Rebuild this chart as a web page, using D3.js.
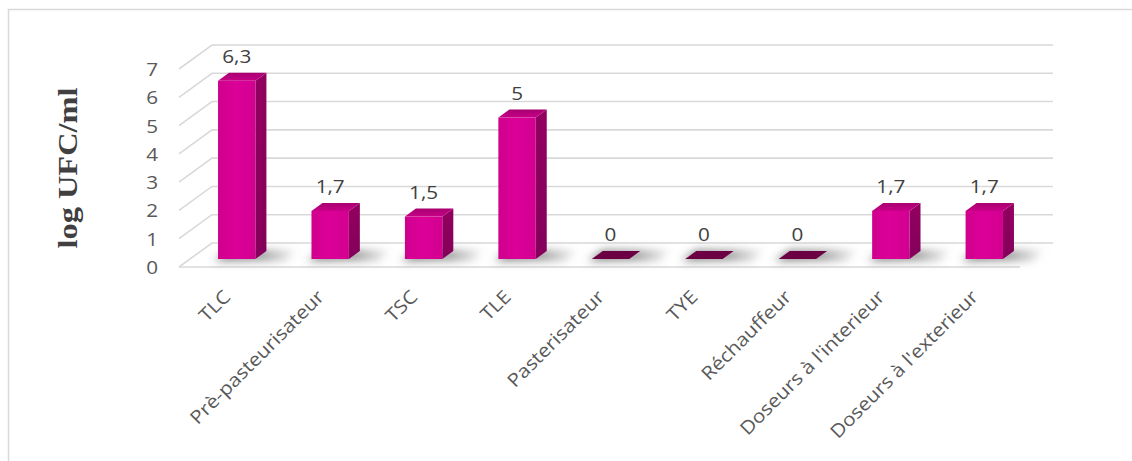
<!DOCTYPE html>
<html>
<head>
<meta charset="utf-8">
<script src="https://cdn.jsdelivr.net/npm/d3@7"></script>
<style>
  html, body { margin: 0; padding: 0; background: #fff; }
  svg { display: block; }
</style>
</head>
<body>
<svg id="chart" width="1132" height="461"></svg>
<script>
// Data
const categories = ["TLC", "Prè-pasteurisateur", "TSC", "TLE", "Pasterisateur", "TYE", "Réchauffeur", "Doseurs à l'interieur", "Doseurs à l'exterieur"];
const values = [6.3, 1.7, 1.5, 5, 0, 0, 0, 1.7, 1.7];
const valueLabels = ["6,3", "1,7", "1,5", "5", "0", "0", "0", "1,7", "1,7"];
const yTicks = [0, 1, 2, 3, 4, 5, 6, 7];
const yTitle = "log UFC/ml";

const svg = d3.select("#chart");

// Frame around the chart area
svg.append("rect")
  .attr("x", 8.5).attr("y", 9.5)
  .attr("width", 1140).attr("height", 470)
  .attr("fill", "none").attr("stroke", "#d9d9d9").attr("stroke-width", 1.5);

// 3D plot geometry: front floor edge, and depth vector of the floor
const floorFrontY = 267;
const depthDX = 33, depthDY = -24;

const x = d3.scaleBand().domain(categories).range([179, 1020]).paddingInner(0).paddingOuter(0);
const y = d3.scaleLinear().domain([0, 7]).range([0, 198]);

const textScale = 1.12;
const textSize = 18.5;
const defs = svg.append("defs");
defs.append("filter").attr("id", "shadowBlur")
  .attr("x", "-50%").attr("y", "-100%").attr("width", "200%").attr("height", "300%")
  .append("feGaussianBlur").attr("stdDeviation", 4);

const shadowGrad = defs.append("linearGradient").attr("id", "shadowGrad")
  .attr("x1", "0").attr("x2", "1").attr("y1", "0").attr("y2", "0");
shadowGrad.append("stop").attr("offset", "0").attr("stop-color", "#505050").attr("stop-opacity", 0.75);
shadowGrad.append("stop").attr("offset", "0.6").attr("stop-color", "#606060").attr("stop-opacity", 0.6);
shadowGrad.append("stop").attr("offset", "1").attr("stop-color", "#808080").attr("stop-opacity", 0.1);

const frontGrad = defs.append("linearGradient").attr("id", "frontGrad")
  .attr("x1", "0").attr("x2", "1").attr("y1", "0").attr("y2", "0");
frontGrad.append("stop").attr("offset", "0").attr("stop-color", "#cf008c");
frontGrad.append("stop").attr("offset", "0.45").attr("stop-color", "#dc0098");
frontGrad.append("stop").attr("offset", "1").attr("stop-color", "#d20090");

const sideGrad = defs.append("linearGradient").attr("id", "sideGrad")
  .attr("x1", "0").attr("x2", "0").attr("y1", "0").attr("y2", "1");
sideGrad.append("stop").attr("offset", "0").attr("stop-color", "#920060");
sideGrad.append("stop").attr("offset", "1").attr("stop-color", "#84005a");

const topGrad = defs.append("linearGradient").attr("id", "topGrad")
  .attr("x1", "0").attr("x2", "0").attr("y1", "0").attr("y2", "1");
topGrad.append("stop").attr("offset", "0").attr("stop-color", "#a8006f");
topGrad.append("stop").attr("offset", "1").attr("stop-color", "#c70088");

// Walls and gridlines
const grid = svg.append("g").attr("stroke", "#d9d9d9").attr("stroke-width", 1.6).attr("fill", "none");
const xLeft = x.range()[0], xRight = x.range()[1];
yTicks.forEach(t => {
  const fy = floorFrontY - y(t);
  const path = d3.path();
  path.moveTo(xLeft, fy);
  path.lineTo(xLeft + depthDX, fy + depthDY);
  path.lineTo(xRight + depthDX, fy + depthDY);
  grid.append("path").attr("d", path.toString());
});
// Front floor edge
grid.append("line")
  .attr("x1", xLeft).attr("y1", floorFrontY)
  .attr("x2", xRight).attr("y2", floorFrontY);

// Bars: placed in the middle third of the floor depth
const barFrac = 0.4;
const fOff = 1 / 3, bOff = 2 / 3;
const fdx = depthDX * fOff, fdy = depthDY * fOff;
const bdx = depthDX * (bOff - fOff), bdy = depthDY * (bOff - fOff);

const bars = categories.map((c, i) => {
  const cx = x(c) + x.bandwidth() / 2 + fdx;
  const w = x.bandwidth() * barFrac;
  const yb = floorFrontY + fdy;
  const yt = yb - y(values[i]);
  return { c, v: values[i], label: valueLabels[i], x0: cx - w / 2, x1: cx + w / 2, cx, yb, yt };
});

// Soft floor shadows
const shadows = svg.append("g").attr("filter", "url(#shadowBlur)");
bars.forEach(b => {
  const pts = [[b.x0 - 4, b.yb + 2], [b.x1 + 30, b.yb + 2], [b.x1 + 30 + bdx, b.yb + bdy - 1], [b.x0 + bdx, b.yb + bdy - 1]];
  shadows.append("polygon")
    .attr("points", pts.map(p => p.join(",")).join(" "))
    .attr("fill", "url(#shadowGrad)");
});

const barG = svg.append("g");
bars.forEach(b => {
  const g = barG.append("g");
  if (b.v > 0) {
    // side face
    g.append("polygon")
      .attr("points", [[b.x1, b.yt], [b.x1 + bdx, b.yt + bdy], [b.x1 + bdx, b.yb + bdy], [b.x1, b.yb]].map(p => p.join(",")).join(" "))
      .attr("fill", "url(#sideGrad)");
    // front face
    g.append("rect")
      .attr("x", b.x0).attr("y", b.yt)
      .attr("width", b.x1 - b.x0).attr("height", b.yb - b.yt)
      .attr("fill", "url(#frontGrad)");
    // top face
    g.append("polygon")
      .attr("points", [[b.x0, b.yt], [b.x1, b.yt], [b.x1 + bdx, b.yt + bdy], [b.x0 + bdx, b.yt + bdy]].map(p => p.join(",")).join(" "))
      .attr("fill", "url(#topGrad)");
  } else {
    // zero-height bar: only its flat cap is visible
    g.append("polygon")
      .attr("points", [[b.x0, b.yt], [b.x1, b.yt], [b.x1 + bdx, b.yt + bdy], [b.x0 + bdx, b.yt + bdy]].map(p => p.join(",")).join(" "))
      .attr("fill", "#6b0043");
  }
});

// Data labels
const textFont = "'Open Sans', 'Liberation Sans', sans-serif";
svg.append("g").selectAll("text").data(bars).join("text")
  .attr("transform", b => `translate(${b.cx},${b.yt - 18}) scale(${textScale},1)`)
  .attr("text-anchor", "middle")
  .attr("font-family", textFont).attr("font-size", textSize)
  .attr("fill", "#404040")
  .text(b => b.label);

// Y tick labels (aligned with the front plane)
svg.append("g").selectAll("text").data(yTicks).join("text")
  .attr("transform", t => `translate(158,${floorFrontY - y(t) + 7}) scale(${textScale},1)`)
  .attr("text-anchor", "end")
  .attr("font-family", textFont).attr("font-size", textSize)
  .attr("fill", "#595959")
  .text(t => t);

// Category labels, rotated
svg.append("g").selectAll("text").data(categories).join("text")
  .attr("transform", c => `translate(${x(c) + x.bandwidth() / 2 + 6},${floorFrontY + 31}) rotate(-45) scale(${textScale},1)`)
  .attr("text-anchor", "end")
  .attr("font-family", textFont).attr("font-size", textSize)
  .attr("fill", "#595959")
  .text(c => c);

// Y axis title
svg.append("text")
  .attr("transform", `translate(77,168) rotate(-90) scale(1.2,1)`)
  .attr("text-anchor", "middle")
  .attr("font-family", "'Liberation Serif', 'Times New Roman', serif")
  .attr("font-weight", "bold").attr("font-size", 27)
  .attr("fill", "#404040")
  .text(yTitle);
</script>
</body>
</html>
